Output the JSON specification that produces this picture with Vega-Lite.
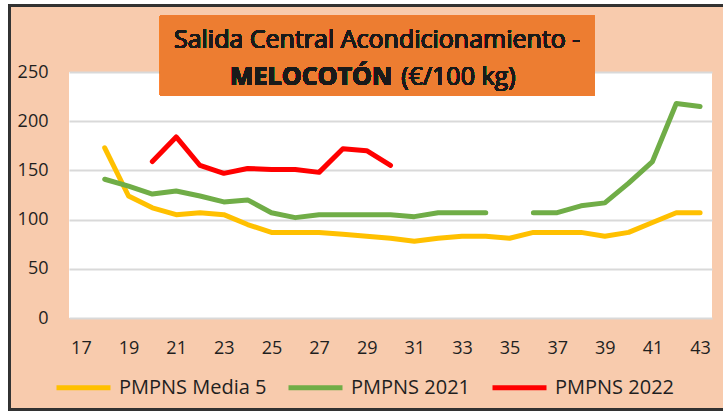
{
  "$schema": "https://vega.github.io/schema/vega-lite/v6.json",
  "width": 643,
  "height": 246,
  "autosize": "none",
  "padding": {"left": 69, "top": 72, "right": 11, "bottom": 98},
  "background": "#F8CBAD",
  "config": {
    "view": {"stroke": null, "fill": "white"},
    "font": "Open Sans",
    "axis": {"title": null}
  },
  "data": {
    "values": [
      {"semana": 18, "serie": "PMPNS Media 5", "precio": 173},
      {"semana": 19, "serie": "PMPNS Media 5", "precio": 124},
      {"semana": 20, "serie": "PMPNS Media 5", "precio": 112},
      {"semana": 21, "serie": "PMPNS Media 5", "precio": 105},
      {"semana": 22, "serie": "PMPNS Media 5", "precio": 107},
      {"semana": 23, "serie": "PMPNS Media 5", "precio": 105},
      {"semana": 24, "serie": "PMPNS Media 5", "precio": 95},
      {"semana": 25, "serie": "PMPNS Media 5", "precio": 87},
      {"semana": 26, "serie": "PMPNS Media 5", "precio": 87},
      {"semana": 27, "serie": "PMPNS Media 5", "precio": 87},
      {"semana": 28, "serie": "PMPNS Media 5", "precio": 85},
      {"semana": 29, "serie": "PMPNS Media 5", "precio": 83},
      {"semana": 30, "serie": "PMPNS Media 5", "precio": 81},
      {"semana": 31, "serie": "PMPNS Media 5", "precio": 78},
      {"semana": 32, "serie": "PMPNS Media 5", "precio": 81},
      {"semana": 33, "serie": "PMPNS Media 5", "precio": 83},
      {"semana": 34, "serie": "PMPNS Media 5", "precio": 83},
      {"semana": 35, "serie": "PMPNS Media 5", "precio": 81},
      {"semana": 36, "serie": "PMPNS Media 5", "precio": 87},
      {"semana": 37, "serie": "PMPNS Media 5", "precio": 87},
      {"semana": 38, "serie": "PMPNS Media 5", "precio": 87},
      {"semana": 39, "serie": "PMPNS Media 5", "precio": 83},
      {"semana": 40, "serie": "PMPNS Media 5", "precio": 87},
      {"semana": 41, "serie": "PMPNS Media 5", "precio": 97},
      {"semana": 42, "serie": "PMPNS Media 5", "precio": 107},
      {"semana": 43, "serie": "PMPNS Media 5", "precio": 107},
      {"semana": 18, "serie": "PMPNS 2021", "precio": 141},
      {"semana": 19, "serie": "PMPNS 2021", "precio": 134},
      {"semana": 20, "serie": "PMPNS 2021", "precio": 126},
      {"semana": 21, "serie": "PMPNS 2021", "precio": 129},
      {"semana": 22, "serie": "PMPNS 2021", "precio": 124},
      {"semana": 23, "serie": "PMPNS 2021", "precio": 118},
      {"semana": 24, "serie": "PMPNS 2021", "precio": 120},
      {"semana": 25, "serie": "PMPNS 2021", "precio": 107},
      {"semana": 26, "serie": "PMPNS 2021", "precio": 102},
      {"semana": 27, "serie": "PMPNS 2021", "precio": 105},
      {"semana": 28, "serie": "PMPNS 2021", "precio": 105},
      {"semana": 29, "serie": "PMPNS 2021", "precio": 105},
      {"semana": 30, "serie": "PMPNS 2021", "precio": 105},
      {"semana": 31, "serie": "PMPNS 2021", "precio": 103},
      {"semana": 32, "serie": "PMPNS 2021", "precio": 107},
      {"semana": 33, "serie": "PMPNS 2021", "precio": 107},
      {"semana": 34, "serie": "PMPNS 2021", "precio": 107},
      {"semana": 35, "serie": "PMPNS 2021", "precio": null},
      {"semana": 36, "serie": "PMPNS 2021", "precio": 107},
      {"semana": 37, "serie": "PMPNS 2021", "precio": 107},
      {"semana": 38, "serie": "PMPNS 2021", "precio": 114},
      {"semana": 39, "serie": "PMPNS 2021", "precio": 117},
      {"semana": 40, "serie": "PMPNS 2021", "precio": 137},
      {"semana": 41, "serie": "PMPNS 2021", "precio": 159},
      {"semana": 42, "serie": "PMPNS 2021", "precio": 218},
      {"semana": 43, "serie": "PMPNS 2021", "precio": 215},
      {"semana": 20, "serie": "PMPNS 2022", "precio": 159},
      {"semana": 21, "serie": "PMPNS 2022", "precio": 184},
      {"semana": 22, "serie": "PMPNS 2022", "precio": 155},
      {"semana": 23, "serie": "PMPNS 2022", "precio": 147},
      {"semana": 24, "serie": "PMPNS 2022", "precio": 152},
      {"semana": 25, "serie": "PMPNS 2022", "precio": 151},
      {"semana": 26, "serie": "PMPNS 2022", "precio": 151},
      {"semana": 27, "serie": "PMPNS 2022", "precio": 148},
      {"semana": 28, "serie": "PMPNS 2022", "precio": 172},
      {"semana": 29, "serie": "PMPNS 2022", "precio": 170},
      {"semana": 30, "serie": "PMPNS 2022", "precio": 155}
    ]
  },
  "layer": [
    {
      "mark": {"type": "line", "strokeWidth": 5, "strokeCap": "round", "strokeJoin": "round", "invalid": "break-paths-filter-domains"},
      "encoding": {
        "x": {
          "field": "semana", "type": "quantitative",
          "scale": {"domain": [16.5, 43.5], "nice": false, "zero": false},
          "axis": {"values": [17, 19, 21, 23, 25, 27, 29, 31, 33, 35, 37, 39, 41, 43], "grid": false, "ticks": false, "domain": false, "labelFontSize": 18, "labelColor": "#1F1F1F", "labelPadding": 21}
        },
        "y": {
          "field": "precio", "type": "quantitative",
          "scale": {"domain": [0, 250], "nice": false},
          "axis": {"values": [0, 50, 100, 150, 200, 250], "grid": true, "gridColor": "#D9D9D9", "gridWidth": 2, "ticks": false, "domain": false, "labelFontSize": 18, "labelColor": "#1F1F1F", "labelPadding": 21}
        },
        "color": {
          "field": "serie", "type": "nominal",
          "scale": {"domain": ["PMPNS Media 5", "PMPNS 2021", "PMPNS 2022"], "range": ["#FFC000", "#70AD47", "#FF0000"]},
          "legend": {"title": null, "orient": "none", "direction": "horizontal", "legendX": -15, "legendY": 286, "symbolType": "stroke", "symbolSize": 2916, "symbolStrokeWidth": 5, "labelFontSize": 20, "labelColor": "#1F1F1F", "labelOffset": 6, "columnPadding": 11, "padding": 0}
        }
      }
    },
    {
      "mark": {"type": "rect", "fill": null, "stroke": "white", "strokeWidth": 18},
      "encoding": {
        "x": {"datum": 13.6, "type": "quantitative"},
        "x2": {"datum": 45.5},
        "y": {"datum": 327.5, "type": "quantitative"},
        "y2": {"datum": -103.4}
      }
    },
    {
      "mark": {"type": "rect", "fill": null, "stroke": "#333333", "strokeWidth": 2},
      "encoding": {
        "x": {"datum": 14.02, "type": "quantitative"},
        "x2": {"datum": 45.5},
        "y": {"datum": 317.9, "type": "quantitative"},
        "y2": {"datum": -93.2}
      }
    },
    {
      "mark": {"type": "rect", "fill": "#ED7D31"},
      "encoding": {
        "x": {"datum": 20.32, "type": "quantitative"},
        "x2": {"datum": 38.56},
        "y": {"datum": 307.2, "type": "quantitative"},
        "y2": {"datum": 226.4}
      }
    },
    {
      "mark": {"type": "text", "align": "center", "baseline": "middle", "fontSize": 25, "fontWeight": "normal", "color": "#1A1A1A"},
      "encoding": {
        "x": {"datum": 29.44, "type": "quantitative"},
        "y": {"datum": 282.8, "type": "quantitative"},
        "text": {"value": "Salida Central Acondicionamiento -"}
      }
    },
    {
      "mark": {"type": "text", "align": "right", "baseline": "middle", "fontSize": 25, "fontWeight": "bold", "color": "#1A1A1A"},
      "encoding": {
        "x": {"datum": 30.07, "type": "quantitative"},
        "y": {"datum": 245.2, "type": "quantitative"},
        "text": {"value": "MELOCOTÓN"}
      }
    },
    {
      "mark": {"type": "text", "align": "left", "baseline": "middle", "fontSize": 25, "fontWeight": "normal", "color": "#1A1A1A"},
      "encoding": {
        "x": {"datum": 30.45, "type": "quantitative"},
        "y": {"datum": 245.2, "type": "quantitative"},
        "text": {"value": "(€/100 kg)"}
      }
    }
  ]
}
